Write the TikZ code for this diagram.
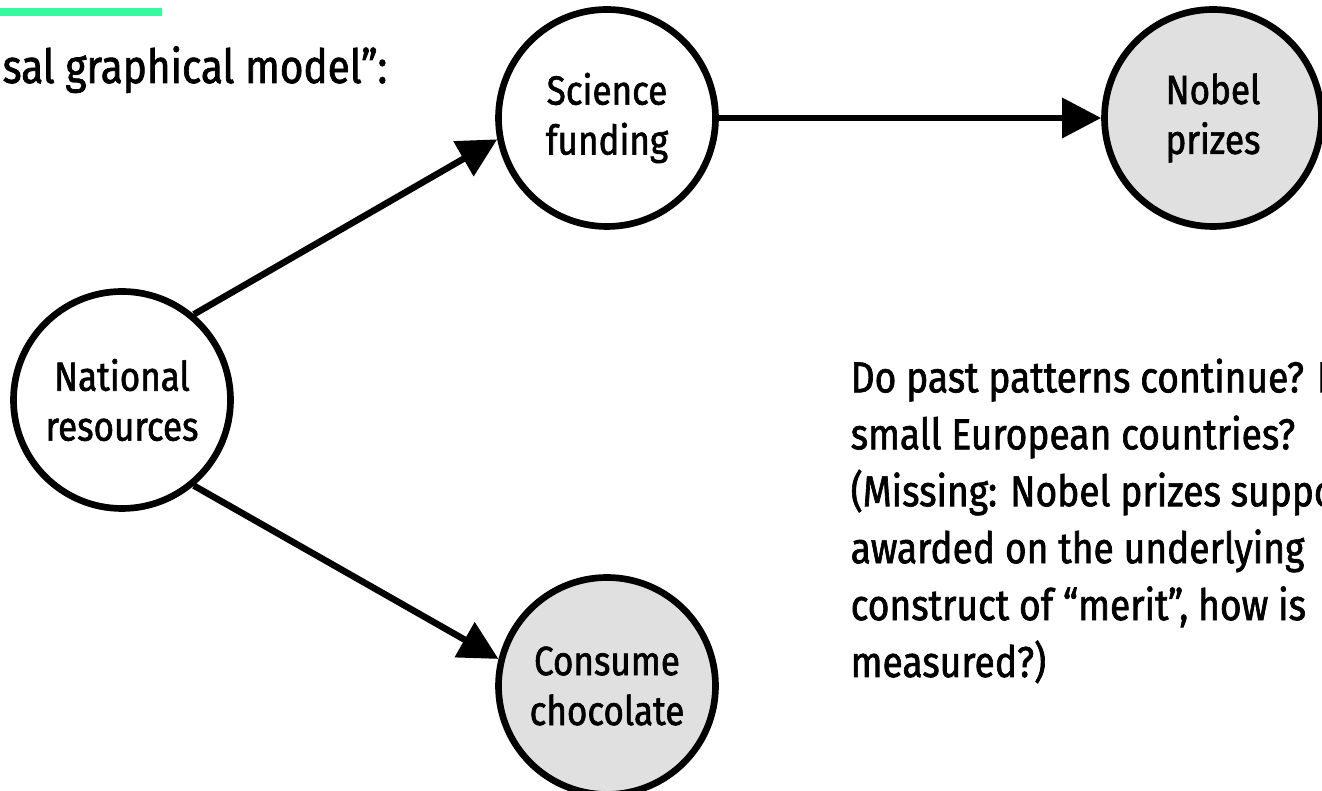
\documentclass[tikz,border=0pt]{standalone}
\usepackage{fontspec}
\setmainfont{Fira Sans}[FakeStretch=0.86, FakeBold=1.5]
\usetikzlibrary{arrows.meta, positioning}
\definecolor{accent}{RGB}{56,248,160}
\definecolor{observed}{RGB}{224,224,224}

\begin{document}
\begin{tikzpicture}[
    var/.style={circle, draw, line width=1.9pt, minimum size=2.17cm, inner sep=0pt, align=center, font=\fontsize{11.6}{14.2}\selectfont},
    obs/.style={var, fill=observed},
    arrow/.style={-{Triangle[length=0.39cm, width=0.39cm]}, line width=1.85pt},
    txt/.style={inner sep=0pt, align=left, font=\fontsize{12.3}{16.2}\selectfont}
]
\clip (0,0) rectangle (13.22,7.91);

% Titel
\fill[accent] (0,7.75) rectangle (1.62,7.83);
\node[txt, anchor=base west, font=\fontsize{13.4}{16}\selectfont] (title) at (0.02,7.08) {sal graphical model”:};

% Variablen
\node[var] (res) at (1.22,3.91) {National\\resources};
\node[var] (fund) at (6.07,6.73) {Science\\funding};
\node[obs] (nobel) at (12.13,6.73) {Nobel\\prizes};
\node[obs] (choc) at (6.07,1.05) {Consume\\chocolate};

\draw[arrow] (res.50) -- (fund.191);
\draw[arrow] (res.-50) -- (choc.166);
\draw[arrow] (fund) -- (nobel);

% Fragen
\node[txt, anchor=base west] (question) at (8.50,1.14) {Do past patterns continue? I\\
small European countries?\\
(Missing: Nobel prizes suppo\\
awarded on the underlying\\
construct of “merit”, how is\\
measured?)};

\end{tikzpicture}
\end{document}
